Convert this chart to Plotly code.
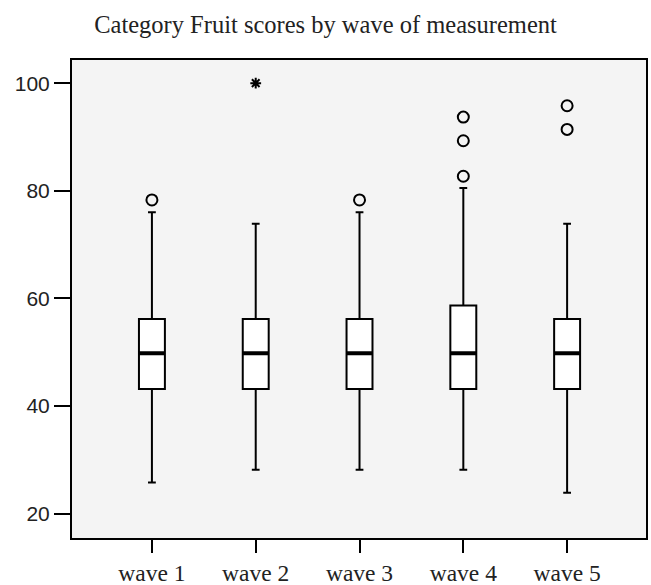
import plotly.graph_objects as go

waves = ["wave 1", "wave 2", "wave 3", "wave 4", "wave 5"]
q1 = [43.2, 43.2, 43.2, 43.2, 43.2]
median = [49.8, 49.8, 49.8, 49.8, 49.8]
q3 = [56.2, 56.2, 56.2, 58.7, 56.2]
lower_whisker = [25.8, 28.2, 28.2, 28.2, 23.9]
upper_whisker = [76.0, 73.9, 76.0, 80.5, 73.9]

outlier_wave = ["wave 1", "wave 3", "wave 4", "wave 4", "wave 4", "wave 5", "wave 5"]
outlier_value = [78.3, 78.3, 82.7, 89.3, 93.7, 91.4, 95.8]
extreme_wave = ["wave 2"]
extreme_value = [100.0]

yticks = [20, 40, 60, 80, 100]

fig = go.Figure()
fig.add_trace(go.Box(
    x=waves, q1=q1, median=median, q3=q3,
    lowerfence=lower_whisker, upperfence=upper_whisker,
    width=0.25, whiskerwidth=0.3,
    fillcolor="white", line=dict(color="black", width=2),
    boxpoints=False, showlegend=False, hoverinfo="skip",
))
# thicker median line
fig.add_trace(go.Box(
    x=waves, q1=median, median=median, q3=median,
    lowerfence=median, upperfence=median,
    width=0.25, whiskerwidth=0,
    fillcolor="black", line=dict(color="black", width=4),
    boxpoints=False, showlegend=False, hoverinfo="skip",
))
fig.add_trace(go.Scatter(
    x=outlier_wave, y=outlier_value, mode="markers",
    marker=dict(symbol="circle-open", size=11, color="black", line=dict(width=2, color="black")),
    showlegend=False, hoverinfo="skip",
))
fig.add_trace(go.Scatter(
    x=extreme_wave, y=extreme_value, mode="markers",
    marker=dict(symbol="asterisk-open", size=9, color="black", line=dict(width=2, color="black")),
    showlegend=False, hoverinfo="skip",
))

fig.update_layout(
    width=651, height=585,
    margin=dict(l=72, r=5, t=60, b=47),
    paper_bgcolor="white",
    plot_bgcolor="#f4f4f4",
    boxmode="overlay",
    title=dict(
        text="Category Fruit scores by wave of measurement",
        x=0.5, xanchor="center", y=0.958, yanchor="middle",
        font=dict(family="Liberation Serif", size=24.5, color="#222222"),
    ),
    xaxis=dict(
        type="category", range=[-0.77, 4.76], automargin=False,
        showline=True, mirror=True, linecolor="black", linewidth=2,
        ticks="outside", ticklen=13, tickwidth=2, tickcolor="black",
        showgrid=False, zeroline=False,
        tickfont=dict(family="Liberation Serif", size=23.5, color="#222222"),
    ),
    yaxis=dict(
        range=[15.5, 104.3], tickvals=yticks, automargin=False,
        showline=True, mirror=True, linecolor="black", linewidth=2,
        ticks="outside", ticklen=16, tickwidth=2, tickcolor="black",
        showgrid=False, zeroline=False,
        tickfont=dict(family="Liberation Sans", size=21, color="#222222"),
    ),
)

fig.write_html(
    "out.html",
    config={"displayModeBar": False},
    post_script="document.body.style.margin='0';document.documentElement.style.overflow='hidden';",
)
